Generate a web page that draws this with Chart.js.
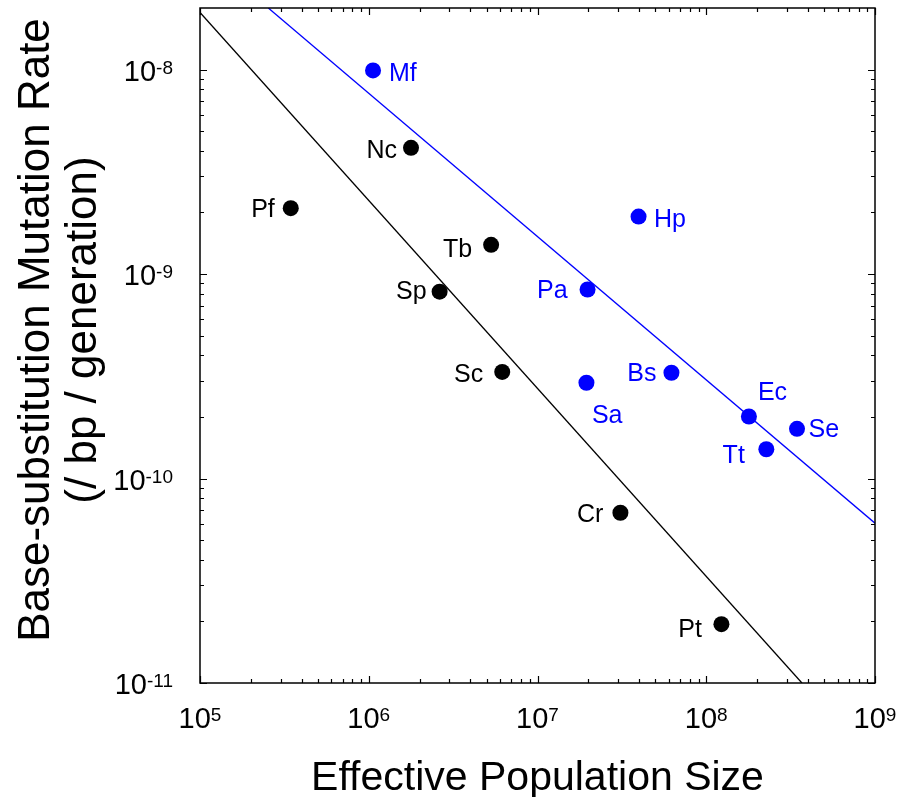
<!DOCTYPE html>
<html>
<head>
<meta charset="utf-8">
<script src="https://cdn.jsdelivr.net/npm/chart.js@4.4.1/dist/chart.umd.min.js"></script>
<style>
  html, body { margin: 0; padding: 0; background: #ffffff; }
  #wrap { width: 901px; height: 797px; }
</style>
</head>
<body>
<div id="wrap"><canvas id="c" width="901" height="797"></canvas></div>
<script>
// ---- Data ----
const euNames = ['Pf', 'Nc', 'Tb', 'Sp', 'Sc', 'Cr', 'Pt'];
const euNe    = [3.45e5, 1.78e6, 5.31e6, 2.63e6, 6.18e6, 3.10e7, 1.23e8];
const euMu    = [2.10e-9, 4.14e-9, 1.39e-9, 8.2e-10, 3.32e-10, 6.8e-11, 1.94e-11];

const proNames = ['Mf', 'Hp', 'Pa', 'Sa', 'Bs', 'Ec', 'Se', 'Tt'];
const proNe    = [1.06e6, 3.97e7, 1.98e7, 1.95e7, 6.22e7, 1.79e8, 3.45e8, 2.27e8];
const proMu    = [9.9e-9, 1.91e-9, 8.4e-10, 2.94e-10, 3.29e-10, 2.01e-10, 1.75e-10, 1.39e-10];

// regression lines (end points)
const euFitNe  = [1e5, 3.69e8];
const euFitMu  = [1.9e-8, 1e-11];
const proFitNe = [2.54e5, 1e9];
const proFitMu = [2e-8, 6.05e-11];

// tick labels (powers of ten)
const xTickExps = [5, 6, 7, 8, 9];
const yTickExps = [-8, -9, -10, -11];

const xTitle = 'Effective Population Size';
const yTitleLines = ['Base-substitution Mutation Rate', '(/ bp / generation)'];

// ---- Styles ----
const BLUE = '#0000ff';
const BLACK = '#000000';
const FONT = '"Liberation Sans", Arial, Helvetica, sans-serif';

// label placement: [dx, dyBaseline, align] relative to point centre
const labelPlacement = {
  Pf: [-16, 8.5, 'right'], Nc: [-14, 10.5, 'right'], Tb: [-19, 12, 'right'],
  Sp: [-13, 7, 'right'], Sc: [-19, 10, 'right'], Cr: [-17, 9, 'right'],
  Pt: [-19.5, 12.5, 'right'],
  Mf: [16, 10.5, 'left'], Hp: [15.5, 10, 'left'], Pa: [-20, 8.5, 'right'],
  Sa: [5.5, 40, 'left'], Bs: [-15, 8, 'right'], Ec: [9, -16.5, 'left'],
  Se: [11.5, 8, 'left'], Tt: [-21.5, 13.5, 'right']
};

function pts(xs, ys) { return xs.map((x, i) => ({ x: x, y: ys[i] })); }

function drawPow(ctx, exp, x, y, align) {
  // x: anchor, y: vertical centre of the "10"
  const bigF = 29, supF = 19;
  ctx.font = bigF + 'px ' + FONT;
  const wBase = ctx.measureText('10').width;
  ctx.font = supF + 'px ' + FONT;
  const expStr = String(exp);
  const wExp = ctx.measureText(expStr).width;
  const total = wBase + wExp;
  let left;
  if (align === 'right') left = x - total;
  else left = x - total / 2;
  const baseBaseline = y + 0.358 * bigF;
  ctx.textAlign = 'left';
  ctx.textBaseline = 'alphabetic';
  ctx.font = bigF + 'px ' + FONT;
  ctx.fillText('10', left, baseBaseline);
  ctx.font = supF + 'px ' + FONT;
  const topOfBig = baseBaseline - 0.716 * bigF;
  ctx.fillText(expStr, left + wBase, topOfBig + 0.716 * supF);
}

const decorate = {
  id: 'decorate',
  afterDatasetsDraw(chart) {
    const ctx = chart.ctx;
    const xs = chart.scales.x, ys = chart.scales.y;
    const a = chart.chartArea;
    ctx.save();
    ctx.fillStyle = BLACK;
    ctx.strokeStyle = BLACK;

    // frame
    ctx.lineWidth = 1.5;
    ctx.strokeRect(a.left, a.top, a.right - a.left, a.bottom - a.top);

    // ticks (inward, on all four sides)
    ctx.lineWidth = 1.2;
    const majL = 7, minL = 4;
    ctx.beginPath();
    for (let d = xTickExps[0]; d <= xTickExps[xTickExps.length - 1]; d++) {
      for (let m = 1; m <= 9; m++) {
        if (d === xTickExps[xTickExps.length - 1] && m > 1) break;
        const v = m * Math.pow(10, d);
        const px = Math.round(xs.getPixelForValue(v)) + 0.5;
        const L = m === 1 ? majL : minL;
        ctx.moveTo(px, a.bottom); ctx.lineTo(px, a.bottom - L);
        ctx.moveTo(px, a.top); ctx.lineTo(px, a.top + L);
      }
    }
    const yMinE = yTickExps[yTickExps.length - 1], yMaxE = yTickExps[0];
    for (let d = yMinE; d <= yMaxE; d++) {
      for (let m = 1; m <= 9; m++) {
        const v = m * Math.pow(10, d);
        if (v > ys.max * 0.999) break;
        const py = Math.round(ys.getPixelForValue(v)) + 0.5;
        const L = m === 1 ? majL : minL;
        ctx.moveTo(a.left, py); ctx.lineTo(a.left + L, py);
        ctx.moveTo(a.right, py); ctx.lineTo(a.right - L, py);
      }
    }
    ctx.stroke();

    // tick labels
    xTickExps.forEach(e => {
      const px = xs.getPixelForValue(Math.pow(10, e));
      drawPow(ctx, e, px, a.bottom + 35, 'center');
    });
    yTickExps.forEach(e => {
      const py = ys.getPixelForValue(Math.pow(10, e));
      drawPow(ctx, e, a.left - 27, py + 1, 'right');
    });

    // axis titles
    ctx.font = '41px ' + FONT;
    ctx.textAlign = 'center';
    ctx.textBaseline = 'alphabetic';
    ctx.fillText(xTitle, (a.left + a.right) / 2, 790);

    ctx.save();
    ctx.translate(49, 330);
    ctx.rotate(-Math.PI / 2);
    ctx.font = '44px ' + FONT;
    ctx.fillText(yTitleLines[0], 0, 0);
    ctx.fillText(yTitleLines[1], 0, 47);
    ctx.restore();

    // point labels
    ctx.font = '25px ' + FONT;
    ctx.textBaseline = 'alphabetic';
    [[0, euNames, BLACK], [1, proNames, BLUE]].forEach(([di, names, col]) => {
      const meta = chart.getDatasetMeta(di);
      ctx.fillStyle = col;
      meta.data.forEach((el, i) => {
        const p = labelPlacement[names[i]];
        ctx.textAlign = p[2];
        ctx.fillText(names[i], el.x + p[0], el.y + p[1]);
      });
    });
    ctx.restore();
  }
};

new Chart(document.getElementById('c'), {
  type: 'scatter',
  data: {
    datasets: [
      { label: 'eukaryotes', data: pts(euNe, euMu), backgroundColor: BLACK, borderColor: BLACK,
        pointRadius: 8, pointHoverRadius: 8, borderWidth: 0 },
      { label: 'prokaryotes', data: pts(proNe, proMu), backgroundColor: BLUE, borderColor: BLUE,
        pointRadius: 8, pointHoverRadius: 8, borderWidth: 0 },
      { label: 'eukaryote fit', data: pts(euFitNe, euFitMu), showLine: true, borderColor: BLACK,
        borderWidth: 1.3, pointRadius: 0, fill: false, tension: 0 },
      { label: 'prokaryote fit', data: pts(proFitNe, proFitMu), showLine: true, borderColor: BLUE,
        borderWidth: 1.3, pointRadius: 0, fill: false, tension: 0 }
    ]
  },
  options: {
    responsive: false,
    animation: false,
    events: [],
    layout: { padding: { left: 200, top: 8, right: 26, bottom: 114 } },
    plugins: { legend: { display: false }, tooltip: { enabled: false } },
    scales: {
      x: { type: 'logarithmic', min: 1e5, max: 1e9, display: false },
      y: { type: 'logarithmic', min: 1e-11, max: 2e-8, display: false }
    }
  },
  plugins: [decorate]
});
</script>
</body>
</html>
